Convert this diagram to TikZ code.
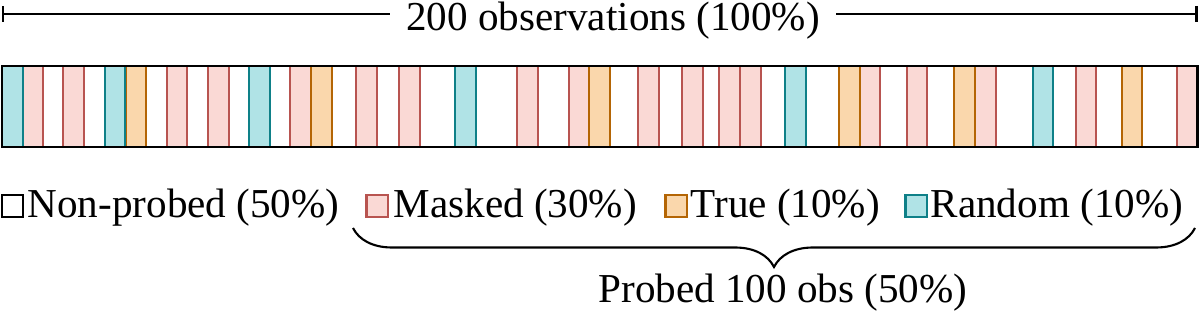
\documentclass[tikz,border=0pt]{standalone}
\usepackage{fontspec}
\setmainfont{Liberation Serif}
\usetikzlibrary{arrows.meta,decorations.pathreplacing}
\definecolor{maskfill}{HTML}{FAD9D5}
\definecolor{maskline}{HTML}{B85450}
\definecolor{truefill}{HTML}{FAD7AC}
\definecolor{trueline}{HTML}{B46504}
\definecolor{randfill}{HTML}{B0E3E6}
\definecolor{randline}{HTML}{0E8088}

\begin{document}
\begin{tikzpicture}[font=\fontsize{11.7}{14}\selectfont,
  masked/.style={fill=maskfill,draw=maskline,line width=0.6pt},
  truestripe/.style={fill=truefill,draw=trueline,line width=0.6pt},
  randstripe/.style={fill=randfill,draw=randline,line width=0.6pt},
  legbox/.style={minimum size=0.215cm,inner sep=0pt},
  legtext/.style={anchor=base west,inner sep=0pt}]
  \useasboundingbox (0,0) rectangle (12,-3.18);
  % total span
  \coordinate (totl) at (0.02,-0.14);
  \coordinate (totr) at (11.975,-0.14);
  \draw[line width=0.6pt,{Bar[width=0.16cm]}-{Bar[width=0.16cm]}] (totl) -- (totr);
  \node[anchor=base,fill=white,inner xsep=0.16cm,inner ysep=0pt] (total) at (6.13,-0.31) {200 observations (100\%)};
  % stripes
  \foreach \x in {22,63.3,166.7,208,290,356,399.3,517.3,568.7,638.3,682,719.3,740,859.7,906.7,975.3,1075.7,1176.7}
    \draw[masked] (\x/100,-0.66) rectangle ++(0.207,-0.81);
  \foreach \x in {125.7,311,589.3,839,954.3,1121.7}
    \draw[truestripe] (\x/100,-0.66) rectangle ++(0.207,-0.81);
  \foreach \x in {2,104.7,249,455,785.3,1032.7}
    \draw[randstripe] (\x/100,-0.66) rectangle ++(0.207,-0.81);
  \draw[line width=0.8pt] (0.02,-0.66) rectangle (11.975,-1.47);
  % legend
  \node[legbox,draw=black,fill=white,line width=0.6pt] (sqnon) at (0.125,-2.06) {};
  \node[legbox,masked] (sqmask) at (3.772,-2.06) {};
  \node[legbox,truestripe] (sqtrue) at (6.762,-2.06) {};
  \node[legbox,randstripe] (sqrand) at (9.163,-2.06) {};
  \node[legtext] (lnon) at (0.27,-2.175) {Non-probed (50\%)};
  \node[legtext] (lmask) at (3.93,-2.175) {Masked (30\%)};
  \node[legtext] (ltrue) at (6.90,-2.175) {True (10\%)};
  \node[legtext] (lrand) at (9.30,-2.175) {Random (10\%)};
  % probed part
  \coordinate (bl) at (3.53,-2.28);
  \coordinate (br) at (11.95,-2.28);
  \draw[line width=0.6pt,decorate,decoration={brace,mirror,amplitude=0.39cm}] (bl) -- (br);
  \node[anchor=base] (probed) at (7.83,-3.03) {Probed 100 obs (50\%)};
\end{tikzpicture}
\end{document}
